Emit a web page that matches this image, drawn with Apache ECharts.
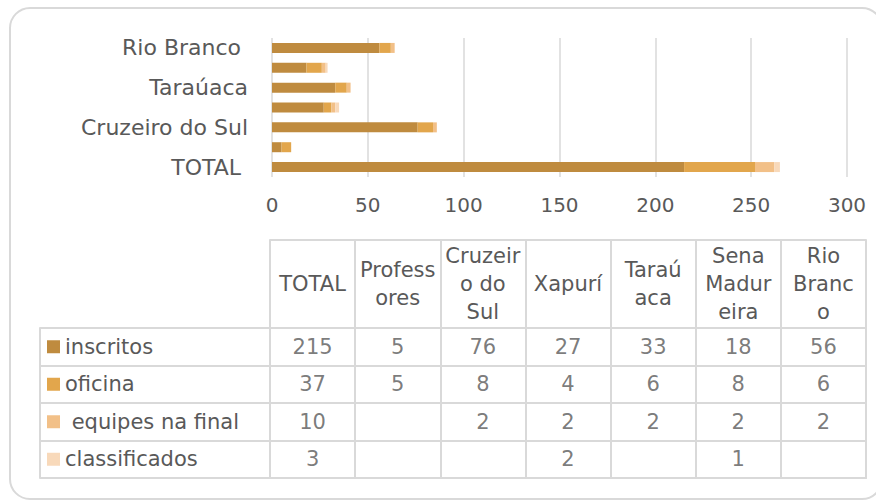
<!DOCTYPE html>
<html>
<head>
<meta charset="utf-8">
<script src="https://cdn.jsdelivr.net/npm/echarts@6/dist/echarts.min.js"></script>
<style>
  html, body { margin: 0; padding: 0; background: #fff; }
  #chart { width: 876px; height: 501px; }
</style>
</head>
<body>
<div id="chart"></div>
<script>
// categories, bottom to top on the bar axis (same order as table columns)
const categories = ["TOTAL ", "Professores", "Cruzeiro do Sul", "Xapurí", "Taraúaca", "Sena Madureira", "Rio Branco "];
// wrapped headers as they appear in the data table
const tableHeaders = ["TOTAL", "Profess\nores", "Cruzeir\no do\nSul", "Xapurí", "Taraú\naca", "Sena\nMadur\neira", "Rio\nBranc\no"];

const seriesNames = ["inscritos", "oficina", " equipes na final", "classificados"];
const inscritos = [215, 5, 76, 27, 33, 18, 56];
const oficina = [37, 5, 8, 4, 6, 8, 6];
const equipes = [10, null, 2, 2, 2, 2, 2];
const classificados = [3, null, null, 2, null, 1, null];

const xTicks = [0, 50, 100, 150, 200, 250, 300];

const colors = ["#bf8b3f", "#e2a64c", "#f2c088", "#f8d9ba"];
const textColor = "#595959";
const lineColor = "#d9d9d9";
const font = "DejaVu Sans";

const allSeries = [inscritos, oficina, equipes, classificados];

// table cells: [column, row, value]
const cells = [];
allSeries.forEach((arr, row) => {
  arr.forEach((v, col) => {
    if (v !== null) cells.push([col, row, v]);
  });
});

const chart = echarts.init(document.getElementById("chart"), null, { renderer: "svg" });

const rich = { t: { fontFamily: font, fontSize: 21, color: textColor, padding: [0, 0, 0, 5] } };
colors.forEach((c, i) => {
  rich["s" + i] = { width: 13, height: 13, backgroundColor: c };
});

const option = {
  animation: false,
  textStyle: { fontFamily: font },
  graphic: [
    {
      type: "rect",
      shape: { x: 10, y: 8, width: 872, height: 491, r: 20 },
      style: { fill: "none", stroke: lineColor, lineWidth: 2 },
      silent: true,
    },
  ],
  grid: [
    { left: 272, width: 575, top: 38, height: 139 },
    { left: 270, width: 596, top: 328, height: 150 },
  ],
  xAxis: [
    {
      gridIndex: 0,
      type: "value",
      min: xTicks[0],
      max: xTicks[xTicks.length - 1],
      interval: 50,
      axisLine: { show: false },
      axisTick: { show: false },
      splitLine: { lineStyle: { color: lineColor, width: 1.5 } },
      axisLabel: { fontSize: 20, color: textColor, margin: 18, fontFamily: font },
    },
    {
      gridIndex: 1,
      type: "category",
      position: "top",
      data: tableHeaders,
      axisLine: { show: true, lineStyle: { color: lineColor, width: 2 } },
      axisTick: { show: true, inside: false, length: 88, lineStyle: { color: lineColor, width: 2 } },
      splitLine: { show: true, lineStyle: { color: lineColor, width: 2 } },
      axisLabel: {
        interval: 0,
        margin: 44,
        verticalAlign: "middle",
        fontSize: 21,
        lineHeight: 28,
        color: textColor,
        fontFamily: font,
      },
    },
    {
      // top edge of the header row
      gridIndex: 1,
      type: "category",
      position: "top",
      offset: 88,
      data: tableHeaders,
      axisLine: { show: true, lineStyle: { color: lineColor, width: 2 } },
      axisTick: { show: false },
      axisLabel: { show: false },
    },
    {
      // bottom edge of the table
      gridIndex: 1,
      type: "category",
      position: "bottom",
      data: tableHeaders,
      axisLine: { show: true, lineStyle: { color: lineColor, width: 2 } },
      axisTick: { show: false },
      axisLabel: { show: false },
    },
  ],
  yAxis: [
    {
      gridIndex: 0,
      type: "category",
      data: categories,
      axisLine: { show: false },
      axisTick: { show: false },
      axisLabel: { interval: 1, fontSize: 22, color: textColor, margin: 24, fontFamily: font },
    },
    {
      gridIndex: 1,
      type: "category",
      inverse: true,
      data: seriesNames,
      axisLine: { show: true, lineStyle: { color: lineColor, width: 2 } },
      axisTick: { show: true, length: 230, lineStyle: { color: lineColor, width: 2 } },
      splitLine: { show: true, lineStyle: { color: lineColor, width: 2 } },
      axisLabel: {
        interval: 0,
        align: "left",
        margin: 223,
        formatter: (v, i) => "{s" + i + "|}{t|" + v + "}",
        rich: rich,
      },
    },
    {
      // left edge of the label column
      gridIndex: 1,
      type: "category",
      position: "left",
      offset: 230,
      inverse: true,
      data: seriesNames,
      axisLine: { show: true, lineStyle: { color: lineColor, width: 2 } },
      axisTick: { show: false },
      axisLabel: { show: false },
    },
    {
      // right edge of the table
      gridIndex: 1,
      type: "category",
      position: "right",
      inverse: true,
      data: seriesNames,
      axisLine: { show: true, lineStyle: { color: lineColor, width: 2 } },
      axisTick: { show: false },
      axisLabel: { show: false },
    },
  ],
  series: allSeries
    .map((arr, i) => ({
      name: seriesNames[i],
      type: "bar",
      stack: "total",
      xAxisIndex: 0,
      yAxisIndex: 0,
      barWidth: 10,
      data: arr,
      itemStyle: { color: colors[i] },
    }))
    .concat([
      {
        type: "scatter",
        xAxisIndex: 1,
        yAxisIndex: 1,
        symbolSize: 0,
        data: cells,
        silent: true,
        label: {
          show: true,
          position: "inside",
          formatter: (p) => String(p.value[2]),
          fontSize: 21,
          color: textColor,
          fontFamily: font,
        },
      },
    ]),
};

chart.setOption(option);
</script>
</body>
</html>
